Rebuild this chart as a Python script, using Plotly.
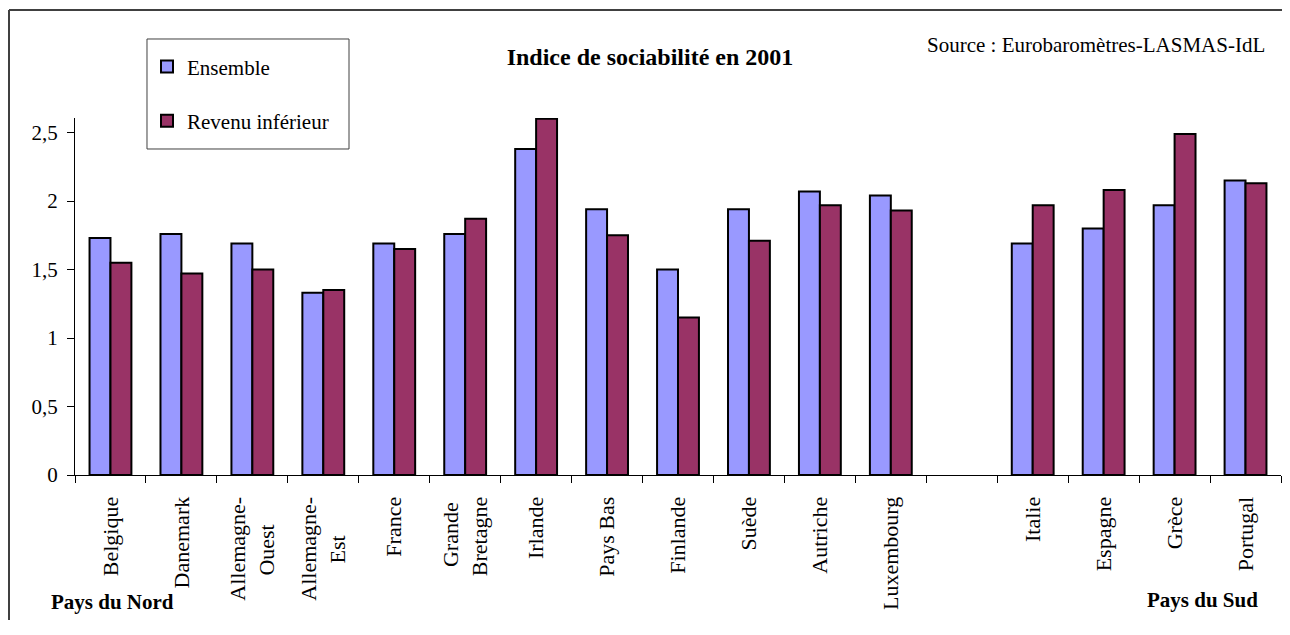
import plotly.graph_objects as go

NB = "\u00a0"
categories = ["Belgique", "Danemark", "Allemagne-<br>Ouest" + NB * 5, "Allemagne-<br>Est" + NB * 7,
              "France", "Grande" + NB + "<br>Bretagne", "Irlande", "Pays Bas", "Finlande", "Suède",
              "Autriche", "Luxembourg", " ", "Italie", "Espagne", "Grèce", "Portugal"]
ensemble = [1.73, 1.76, 1.69, 1.33, 1.69, 1.76, 2.38, 1.94, 1.50, 1.94, 2.07, 2.04,
            None, 1.69, 1.80, 1.97, 2.15]
revenu_inferieur = [1.55, 1.47, 1.50, 1.35, 1.65, 1.87, 2.60, 1.75, 1.15, 1.71, 1.97, 1.93,
                    None, 1.97, 2.08, 2.49, 2.13]
y_tickvals = [0, 0.5, 1, 1.5, 2, 2.5]
y_ticktext = ["0", "0,5", "1", "1,5", "2", "2,5"]

FONT = "Liberation Serif"
W, H = 1274, 612
L, R, T, B = 67, 1, 110, 145
PW, PH = W - L - R, H - T - B

fig = go.Figure()
fig.add_trace(go.Bar(x=categories, y=ensemble, name="Ensemble", legendgroup="a",
                     marker=dict(color="#9999FF", line=dict(color="black", width=2))))
fig.add_trace(go.Bar(x=categories, y=revenu_inferieur, name="Revenu inférieur", legendgroup="b",
                     marker=dict(color="#993366", line=dict(color="black", width=2))))

fig.update_layout(
    width=W, height=H,
    margin=dict(l=L, r=R, t=T, b=B),
    plot_bgcolor="white", paper_bgcolor="white",
    font=dict(family=FONT, color="black", size=21),
    barmode="group", bargap=0.41, bargroupgap=0,
    title=dict(text="<b>Indice de sociabilité en 2001</b>", x=0.5039, xanchor="center",
               y=1 - 49 / H, yanchor="middle", font=dict(size=24, family=FONT)),
    showlegend=True,
    legend=dict(x=0.0597, xanchor="left", y=1.201, yanchor="top",
                bgcolor="rgba(0,0,0,0)", borderwidth=0, tracegroupgap=24,
                font=dict(size=21, family=FONT), traceorder="grouped"),
    xaxis=dict(type="category", categoryorder="array", categoryarray=categories,
               showline=True, linecolor="black", linewidth=1,
               ticks="outside", tickson="boundaries", ticklen=7, tickcolor="black",
               tickangle=-90, tickfont=dict(size=22, family=FONT), showgrid=False,
               ticklabelstandoff=12),
    yaxis=dict(range=[0, 2.606], showline=True, linecolor="black", linewidth=1,
               tickvals=y_tickvals, ticktext=y_ticktext, ticks="outside", ticklen=7,
               tickcolor="black", showgrid=False, zeroline=False,
               tickfont=dict(size=21, family=FONT), ticklabelstandoff=5),
)

# legend frame
fig.add_shape(type="rect", xref="paper", yref="paper", x0=0.0597, x1=0.2272, y0=0.9132, y1=1.2213,
              line=dict(color="#404040", width=1), fillcolor="white", layer="below")
# outer chart frame (top and left edges visible), kept inside the figure
frame_top = (T + PH - 2) / PH
frame_left = (1 - L) / PW
frame_right = (W - L) / PW
frame_bottom = (T + PH - H) / PH
fig.add_shape(type="line", xref="paper", yref="paper", x0=frame_left, x1=frame_right,
              y0=frame_top, y1=frame_top, line=dict(color="#404040", width=2))
fig.add_shape(type="line", xref="paper", yref="paper", x0=frame_left, x1=frame_left,
              y0=frame_bottom, y1=frame_top, line=dict(color="#404040", width=2))

fig.add_annotation(text="Source : Eurobaromètres-LASMAS-IdL", xref="paper", yref="paper",
                   x=0.7048, xanchor="left", y=1.2045, yanchor="middle", showarrow=False,
                   font=dict(size=21, family=FONT))
fig.add_annotation(text="<b>Pays du Nord</b>", xref="paper", yref="paper",
                   x=0.0307, xanchor="center", y=-0.3557, yanchor="middle", showarrow=False,
                   font=dict(size=21, family=FONT))
fig.add_annotation(text="<b>Pays du Sud</b>", xref="paper", yref="paper",
                   x=0.9345, xanchor="center", y=-0.350, yanchor="middle", showarrow=False,
                   font=dict(size=21, family=FONT))

fig.write_html("out.html")
